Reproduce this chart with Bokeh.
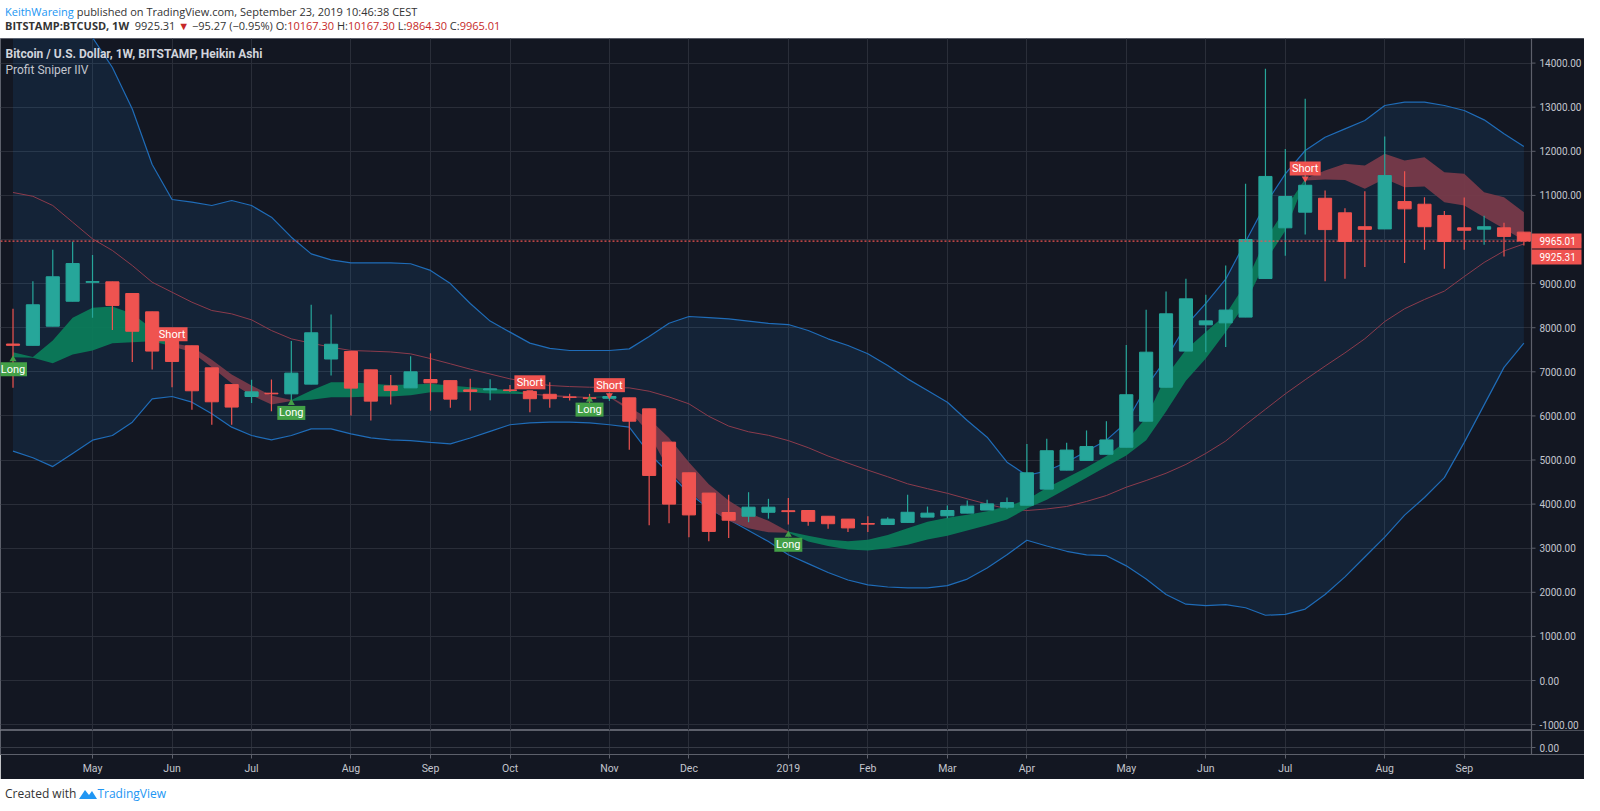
import numpy as np
import pandas as pd
from bokeh.plotting import figure
from bokeh.layouts import column
from bokeh.models import (ColumnDataSource, LinearAxis, FixedTicker, Label,
                          Div, Range1d, Grid)
from bokeh.embed import file_html
from bokeh.resources import INLINE

# ---------------- data (weekly Heikin Ashi, BITSTAMP:BTCUSD) ----------------
first_week = "2018-04-09"

ha_open = [7630, 7600, 8035, 8600, 9030, 9040, 8775, 8360, 7920, 7590,
           7090, 6710, 6440, 6515, 6500, 6720, 7290, 7460, 7045, 6680,
           6636, 6825, 6800, 6590, 6590, 6590, 6555, 6490, 6430, 6410,
           6400, 6410, 6160, 5405, 4710, 4250, 3810, 3725, 3815, 3850,
           3855, 3725, 3660, 3560, 3537, 3585, 3705, 3735, 3795, 3865,
           3930, 3975, 4340, 4770, 4990, 5130, 5290, 5880, 6650, 7470,
           8065, 8110, 8240, 9115, 10265, 10620, 10935, 10605, 10290, 10240,
           10860, 10800, 10545, 10265, 10235, 10265, 10167.30]
ha_high = [8430, 9055, 9770, 9950, 9650, 9040, 8775, 8360, 7920, 7590,
           7090, 6710, 6820, 6825, 7700, 8520, 8300, 7460, 7045, 6930,
           7350, 7420, 6800, 6840, 6830, 6700, 6555, 6765, 6500, 6500,
           6530, 6410, 6160, 5405, 4710, 4250, 4210, 4270, 4120, 4140,
           3855, 3725, 3660, 3725, 3700, 4210, 3945, 3970, 4080, 4100,
           4150, 5365, 5480, 5390, 5670, 5880, 7610, 8405, 8820, 9110,
           8745, 9410, 11265, 13870, 12055, 13190, 11110, 10710, 11095, 12335,
           11550, 10960, 10645, 10950, 10540, 10380, 10167.30]
ha_low = [6640, 7600, 8035, 8600, 8225, 7950, 7225, 7050, 6650, 6140,
          5800, 5800, 6290, 6105, 6350, 6720, 6915, 6010, 5895, 6260,
          6636, 6120, 6185, 6120, 6355, 6540, 6085, 6185, 6350, 6260,
          6340, 5230, 3520, 3565, 3250, 3160, 3230, 3590, 3670, 3540,
          3510, 3440, 3365, 3365, 3537, 3585, 3705, 3680, 3795, 3865,
          3895, 3975, 4340, 4770, 4990, 5130, 5290, 5880, 6650, 7470,
          7445, 7560, 8240, 9115, 9630, 10115, 9055, 9110, 9375, 10240,
          9470, 9765, 9335, 9765, 9880, 9615, 9864.30]
ha_close = [7600, 8520, 9155, 9455, 9045, 8505, 7920, 7470, 7235, 6570,
            6320, 6200, 6545, 6500, 6970, 7885, 7625, 6630, 6335, 6575,
            7000, 6750, 6380, 6555, 6615, 6575, 6390, 6390, 6420, 6400,
            6440, 5880, 4650, 4000, 3755, 3380, 3635, 3930, 3930, 3830,
            3610, 3555, 3460, 3545, 3660, 3815, 3795, 3855, 3955, 4005,
            4035, 4710, 5210, 5225, 5305, 5455, 6480, 7445, 8315, 8655,
            8155, 8400, 10000, 11430, 10975, 11230, 10225, 9955, 10230, 11450,
            10695, 10290, 9955, 10210, 10290, 10070, 9965.01]

bb_upper = [16900, 16900, 16700, 15600, 14580, 13900, 12960, 11700, 10907, 10846,
            10771, 10884, 10771, 10506, 10053, 9675, 9539, 9471, 9471, 9471,
            9450, 9300, 9000, 8550, 8150, 7900, 7650, 7530, 7483, 7483,
            7483, 7520, 7800, 8100, 8254, 8230, 8200, 8150, 8100, 8072,
            7937, 7748, 7597, 7408, 7143, 6840, 6576, 6311, 5895, 5517,
            4950, 4650, 4750, 4950, 5200, 5450, 5850, 6650, 7300, 8050,
            8550, 9100, 9950, 10800, 11489, 12018, 12320, 12509, 12698, 13038,
            13114, 13114, 13038, 12925, 12713, 12396, 12109]
bb_basis = [11066, 10980, 10771, 10393, 10015, 9751, 9410, 9032, 8805, 8578,
            8390, 8314, 8178, 7936, 7747, 7649, 7558, 7483, 7468, 7450,
            7407, 7300, 7181, 7060, 6950, 6840, 6760, 6689, 6665, 6651,
            6645, 6636, 6560, 6430, 6274, 5990, 5770, 5640, 5560, 5440,
            5280, 5090, 4930, 4770, 4620, 4460, 4350, 4245, 4120, 4000,
            3893, 3855, 3890, 3946, 4060, 4195, 4384, 4535, 4700, 4900,
            5150, 5430, 5800, 6150, 6500, 6820, 7130, 7430, 7750, 8140,
            8430, 8640, 8830, 9160, 9480, 9740, 9900]
bb_lower = [5200, 5050, 4850, 5150, 5450, 5556, 5858, 6387, 6440, 6311,
            6047, 5745, 5556, 5457, 5556, 5707, 5707, 5594, 5503, 5457,
            5440, 5400, 5367, 5500, 5650, 5800, 5840, 5858, 5858, 5840,
            5800, 5745, 5150, 4700, 4250, 3900, 3650, 3400, 3150, 2850,
            2650, 2450, 2280, 2170, 2120, 2100, 2100, 2150, 2300, 2550,
            2850, 3180, 3050, 2930, 2850, 2830, 2600, 2300, 1950, 1730,
            1700, 1720, 1650, 1480, 1500, 1620, 1950, 2350, 2800, 3250,
            3750, 4150, 4600, 5400, 6250, 7100, 7650]

cloud_top = [7445, 7335, 7710, 8224, 8451, 8481, 8315, 7974, 7650, 7574,
             7272, 6939, 6689, 6463, 6360, 6576, 6765, 6765, 6727, 6700,
             6710, 6727, 6690, 6651, 6620, 6580, 6510, 6480, 6450, 6430,
             6445, 6198, 5933, 5500, 4950, 4450, 4080, 3800, 3620, 3380,
             3280, 3200, 3160, 3190, 3300, 3450, 3600, 3690, 3760, 3840,
             3950, 4100, 4370, 4600, 4830, 5090, 5430, 5960, 6900, 7500,
             7900, 8300, 9000, 10000, 10700, 11380, 11565, 11716, 11678, 11943,
             11792, 11867, 11527, 11489, 11074, 10960, 10620]
cloud_bot = [7332, 7317, 7196, 7392, 7483, 7649, 7672, 7695, 7580, 7445,
             7105, 6742, 6463, 6259, 6340, 6364, 6425, 6425, 6440, 6440,
             6470, 6538, 6538, 6538, 6510, 6500, 6490, 6440, 6410, 6415,
             6425, 6122, 5600, 4750, 4300, 3900, 3620, 3450, 3360, 3350,
             3150, 3050, 2970, 2950, 3000, 3080, 3200, 3280, 3400, 3520,
             3650, 3900, 4100, 4350, 4600, 4850, 5100, 5450, 6100, 6800,
             7300, 7900, 8550, 9500, 10200, 11340, 11361, 11352, 11149, 11376,
             11187, 11202, 10847, 10771, 10506, 10242, 9977]

long_signals = [0, 14, 29, 39]
short_signals = [8, 26, 30, 65]
last_ha_close = 9965.01
last_price = 9925.31

price_ticks = list(range(-1000, 15000, 1000))

# ---------------- styling / geometry ----------------
BG = "#131722"
GRID = "#2a2e39"
EDGE = "#5d606b"
TXT = "#c3c6ce"
UP = "#26a69a"
DOWN = "#ef5350"
FONT = "Roboto"

W = 1584            # whole chart width (frame incl. price scale)
AXW = 53            # price-scale width
MAIN_H = 692
SUB_H = 49
PPX = 19.88         # pixels per weekly bar
x_lo = -0.629
x_hi = x_lo + W / PPX
x_axis = x_lo + (W - AXW) / PPX          # data x where the price scale starts
y_hi = 14558
SCALE = 0.0441                            # pixels per USD
y_lo = y_hi - MAIN_H / SCALE

dates = pd.date_range(first_week, periods=len(ha_open), freq="W-MON")
idx = np.arange(len(dates))
month_ticks, month_labels = [], {}
for i in range(1, len(dates)):
    if dates[i].month != dates[i - 1].month:
        month_ticks.append(int(i))
        month_labels[int(i)] = str(dates[i].year) if dates[i].month == 1 else dates[i].strftime("%b")

o = np.array(ha_open, float); h = np.array(ha_high, float)
l = np.array(ha_low, float); c = np.array(ha_close, float)
ct = np.array(cloud_top, float); cb = np.array(cloud_bot, float)


def price_scale(fig, ticks, labels, ylo, yhi, tick_font="10px"):
    """Draw a TradingView-like price scale in the right strip of the frame."""
    fig.quad(left=[x_axis], right=[x_hi], bottom=[ylo], top=[yhi], fill_color=BG, line_color=None)
    fig.segment(x0=[x_axis], y0=[ylo], x1=[x_axis], y1=[yhi], line_color=EDGE, line_width=1.2)
    fig.segment(x0=[x_axis] * len(ticks), y0=ticks, x1=[x_axis + 4 / PPX] * len(ticks), y1=ticks,
                line_color=EDGE, line_width=1)
    fig.text(x=[x_axis + 8 / PPX] * len(ticks), y=ticks, text=labels, text_color=TXT,
             text_font_size=tick_font, text_baseline="middle", text_align="left",
             text_font={"value": FONT})


# ---------------- main pane ----------------
p = figure(width=W, height=MAIN_H, x_range=Range1d(x_lo, x_hi), y_range=Range1d(y_lo, y_hi),
           output_backend="svg", toolbar_location=None,
           x_axis_location=None, y_axis_location=None,
           min_border_left=0, min_border_right=0, min_border_top=0, min_border_bottom=0,
           background_fill_color=BG, border_fill_color=BG, outline_line_color=EDGE)
for g in list(p.grid):
    g.visible = False
p.add_layout(Grid(dimension=0, ticker=FixedTicker(ticks=month_ticks), grid_line_color=GRID))
p.add_layout(Grid(dimension=1, ticker=FixedTicker(ticks=price_ticks), grid_line_color=GRID))

# Bollinger bands
p.varea(x=idx, y1=bb_lower, y2=bb_upper, fill_color="#2196f3", fill_alpha=0.10)
p.line(idx, bb_basis, line_color="#8c3b4c", line_width=1)
p.line(idx, bb_upper, line_color="#1f6cb8", line_width=1.2)
p.line(idx, bb_lower, line_color="#1f6cb8", line_width=1.2)

# Profit Sniper cloud, coloured by the last signal
signals = sorted([(i, "long") for i in long_signals] + [(i, "short") for i in short_signals])
bounds = [s[0] for s in signals] + [len(idx) - 1]
for k, (i, kind) in enumerate(signals):
    j = bounds[k + 1]
    sl = slice(i, j + 1)
    p.varea(x=idx[sl], y1=cb[sl], y2=ct[sl],
            fill_color="#0b7b59" if kind == "long" else "#773a49", fill_alpha=0.95)

# Heikin Ashi candles
colors = [UP if cc >= oo else DOWN for oo, cc in zip(o, c)]
src = ColumnDataSource(dict(x=idx, top=np.maximum(o, c), bottom=np.minimum(o, c),
                            high=h, low=l, color=colors))
p.segment(x0="x", y0="low", x1="x", y1="high", source=src, line_color="color", line_width=1.2)
p.vbar(x="x", top="top", bottom="bottom", width=0.66, source=src,
       fill_color="color", line_color="color", line_width=1)

# last price dotted line (up to the price scale)
p.segment(x0=[x_lo], y0=[last_ha_close], x1=[x_axis], y1=[last_ha_close],
          line_color=DOWN, line_dash="2 2", line_width=1.2)

# signal labels
sig_lo = np.minimum(ct, cb)
L = np.array(long_signals); S = np.array(short_signals)
lsrc = ColumnDataSource(dict(x=L, tip=sig_lo[L] - 2 / SCALE, box=sig_lo[L] - 12 / SCALE,
                             t=["Long"] * len(L)))
ssrc = ColumnDataSource(dict(x=S, tip=sig_lo[S] + 2 / SCALE, box=sig_lo[S] + 12 / SCALE,
                             t=["Short"] * len(S)))
LONG_C = "#43a047"
SHORT_C = "#ef5350"
p.scatter(x="x", y="tip", source=lsrc, marker="triangle", size=7, fill_color=LONG_C, line_color=None)
p.rect(x="x", y="box", width=28, height=14, width_units="screen", height_units="screen",
       source=lsrc, fill_color=LONG_C, line_color=None)
p.text(x="x", y="box", text="t", source=lsrc, text_color="white", text_font_size="11px",
       text_align="center", text_baseline="middle", text_font={"value": FONT})
p.scatter(x="x", y="tip", source=ssrc, marker="inverted_triangle", size=7, fill_color=SHORT_C, line_color=None)
p.rect(x="x", y="box", width=31, height=14, width_units="screen", height_units="screen",
       source=ssrc, fill_color=SHORT_C, line_color=None)
p.text(x="x", y="box", text="t", source=ssrc, text_color="white", text_font_size="11px",
       text_align="center", text_baseline="middle", text_font={"value": FONT})

# price scale with its tick labels
price_scale(p, price_ticks, [f"{t:.2f}" for t in price_ticks], y_lo, y_hi)

# last-value tags on the price scale
tag_vals = [last_ha_close, last_price]
tag_y = [last_ha_close, min(last_price, last_ha_close - 16 / SCALE)]
p.quad(left=[x_axis] * 2, right=[x_axis + 50 / PPX] * 2,
       bottom=[v - 7.5 / SCALE for v in tag_y], top=[v + 7.5 / SCALE for v in tag_y],
       fill_color=DOWN, line_color=None)
p.text(x=[x_axis + 8 / PPX] * 2, y=tag_y, text=[f"{v:.2f}" for v in tag_vals],
       text_color="white", text_font_size="10px", text_baseline="middle",
       text_align="left", text_font={"value": FONT})

# titles inside the pane
p.add_layout(Label(x=5, y=MAIN_H - 15, x_units="screen", y_units="screen",
                   text="Bitcoin / U.S. Dollar, 1W, BITSTAMP, Heikin Ashi",
                   text_color="#d1d4dc", text_font=FONT, text_font_style="bold",
                   text_font_size="12px", text_baseline="middle"))
p.add_layout(Label(x=5, y=MAIN_H - 31, x_units="screen", y_units="screen",
                   text="Profit Sniper IIV", text_color="#c3c6ce", text_font=FONT,
                   text_font_size="12px", text_baseline="middle"))

# ---------------- sub pane + time axis ----------------
s_lo, s_hi = -1, 2.43
s = figure(width=W, height=SUB_H, x_range=p.x_range, y_range=Range1d(s_lo, s_hi),
           output_backend="svg", toolbar_location=None,
           x_axis_location=None, y_axis_location=None,
           min_border_left=0, min_border_right=0, min_border_top=0, min_border_bottom=25,
           background_fill_color=BG, border_fill_color=BG, outline_line_color=EDGE)
for g in list(s.grid):
    g.visible = False
s.add_layout(Grid(dimension=0, ticker=FixedTicker(ticks=month_ticks), grid_line_color=GRID))
s.add_layout(Grid(dimension=1, ticker=FixedTicker(ticks=[0]), grid_line_color="#363a45"))
xax = LinearAxis(ticker=FixedTicker(ticks=month_ticks), major_label_overrides=month_labels,
                 axis_line_color=EDGE, major_tick_line_color=EDGE, major_tick_out=4, major_tick_in=0,
                 minor_tick_line_color=None, major_label_text_color=TXT,
                 major_label_text_font=FONT, major_label_text_font_size="10.5px",
                 major_label_standoff=3)
s.add_layout(xax, "below")
price_scale(s, [0], ["0.00"], s_lo, s_hi)

# ---------------- header / footer ----------------
header = Div(width=W, height=28, text=(
    "<div style=\"font-family:'Open Sans';font-size:11px;"
    "line-height:14px;color:#333;white-space:nowrap\">"
    "<div><span style='color:#2196f3'>KeithWareing</span> published on TradingView.com, "
    "September 23, 2019 10:46:38 CEST</div>"
    "<div><b>BITSTAMP:BTCUSD, 1W</b>&nbsp; 9925.31 <span style='color:#c62828'>&#9660;</span> "
    "&minus;95.27 (&minus;0.95%) O:<span style='color:#c62828'>10167.30</span> "
    "H:<span style='color:#c62828'>10167.30</span> "
    "L:<span style='color:#c62828'>9864.30</span> "
    "C:<span style='color:#c62828'>9965.01</span></div></div>"))

footer = Div(width=W, height=22, text=(
    "<div style=\"padding-top:2px;font-family:'Open Sans';font-size:12px;line-height:16px;"
    "color:#333;white-space:nowrap\">Created with "
    "<svg width='18' height='11' viewBox='0 0 18 11' style='vertical-align:-1px'>"
    "<polygon points='0,11 6,2 10,7 13,3 18,11' fill='#2196f3'/></svg>"
    "<span style='color:#2196f3'>TradingView</span></div>"))

layout = column(header, p, s, footer, spacing=0)
open("out.html", "w").write(file_html(layout, INLINE))
